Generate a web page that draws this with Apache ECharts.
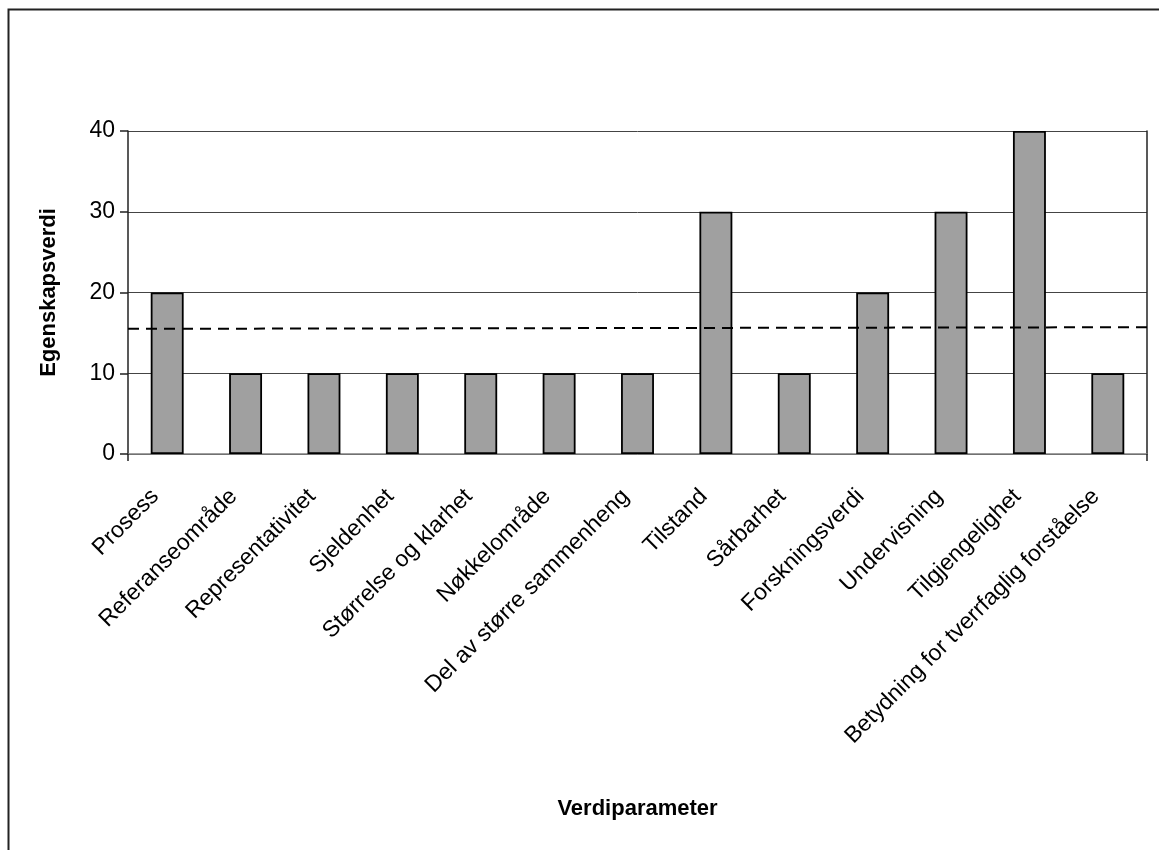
<!DOCTYPE html>
<html>
<head>
<meta charset="utf-8">
<script src="https://cdn.jsdelivr.net/npm/echarts@6/dist/echarts.min.js"></script>
<style>
  html, body { margin: 0; padding: 0; background: #fff; }
  #chart { width: 1159px; height: 850px; }
</style>
</head>
<body>
<div id="chart"></div>
<script>
// Verdiparameter categories and their egenskapsverdi
const categories = [
  'Prosess', 'Referanseområde', 'Representativitet', 'Sjeldenhet',
  'Størrelse og klarhet', 'Nøkkelområde', 'Del av større sammenheng',
  'Tilstand', 'Sårbarhet', 'Forskningsverdi', 'Undervisning',
  'Tilgjengelighet', 'Betydning for tverrfaglig forståelse'
];
const values = [20, 10, 10, 10, 10, 10, 10, 30, 10, 20, 30, 40, 10];

// Dashed reference line: value at the left and right edge of the plot
const refLine = [[0, 15.5], [1, 15.7]];

const yTicks = { min: 0, max: 40, interval: 10 };

const FONT = '"Liberation Sans", Arial, sans-serif';

const chart = echarts.init(document.getElementById('chart'), null, { renderer: 'canvas' });

chart.setOption({
  animation: false,
  backgroundColor: '#fff',
  textStyle: { fontFamily: FONT },
  graphic: [{
    type: 'rect',
    shape: { x: 8.5, y: 9.5, width: 1400, height: 1100 },
    style: { fill: 'none', stroke: '#222', lineWidth: 2 },
    silent: true
  }],
  grid: { left: 128, right: 12, top: 131, bottom: 396, containLabel: false },
  xAxis: [{
    type: 'category',
    data: categories,
    boundaryGap: true,
    name: 'Verdiparameter',
    nameLocation: 'middle',
    nameGap: 344,
    nameTextStyle: { fontFamily: FONT, fontSize: 22, fontWeight: 'bold', color: '#000' },
    axisLine: { show: true, lineStyle: { color: '#808080', width: 1.5 } },
    axisTick: { show: false },
    axisLabel: {
      rotate: 45, margin: 51, interval: 0,
      verticalAlign: 'bottom', lineHeight: 34,
      fontFamily: FONT, fontSize: 23, color: '#000'
    },
    splitLine: { show: false }
  }, {
    // helper axis spanning the plot width, carries the dashed line and edge ticks
    type: 'value',
    min: 0, max: 1, interval: 1,
    position: 'bottom',
    axisLine: { show: false },
    axisTick: { show: true, length: 7, inside: false, lineStyle: { color: '#222', width: 1.5 } },
    axisLabel: { show: false },
    splitLine: { show: false }
  }],
  yAxis: [{
    type: 'value',
    min: yTicks.min, max: yTicks.max, interval: yTicks.interval,
    name: 'Egenskapsverdi',
    nameLocation: 'middle',
    nameGap: 68,
    nameTextStyle: { fontFamily: FONT, fontSize: 22, fontWeight: 'bold', color: '#000' },
    axisLine: { show: true, lineStyle: { color: '#222', width: 1.5 } },
    axisTick: { show: true, length: 8, lineStyle: { color: '#222', width: 1.5 } },
    axisLabel: { margin: 13, fontFamily: FONT, fontSize: 23, color: '#000' },
    splitLine: { show: true, lineStyle: { color: '#444', width: 1 } }
  }, {
    type: 'value',
    position: 'right',
    min: yTicks.min, max: yTicks.max, interval: yTicks.interval,
    axisLine: { show: true, lineStyle: { color: '#222', width: 1.5 } },
    axisTick: { show: false },
    axisLabel: { show: false },
    splitLine: { show: false }
  }],
  series: [{
    type: 'bar',
    data: values,
    xAxisIndex: 0,
    yAxisIndex: 0,
    barWidth: '42%',
    itemStyle: { color: '#a0a0a0', borderColor: '#000', borderWidth: 1.8 },
    z: 2
  }, {
    type: 'line',
    data: refLine,
    xAxisIndex: 1,
    yAxisIndex: 0,
    symbol: 'none',
    lineStyle: { color: '#000', width: 2, type: [11, 7] },
    z: 3
  }]
});
</script>
</body>
</html>
